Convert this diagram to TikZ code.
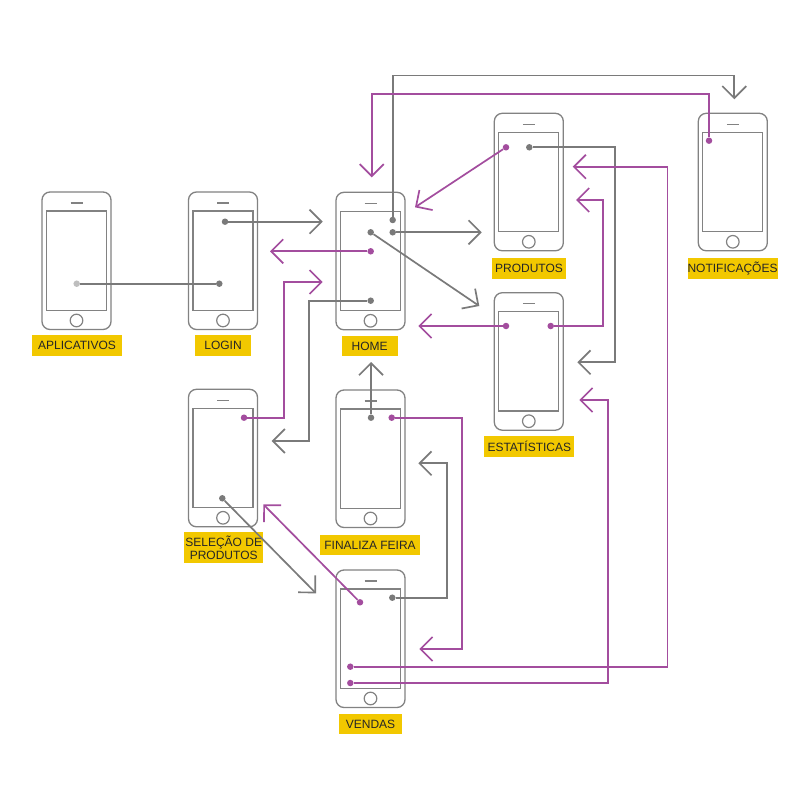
\documentclass[tikz,border=0pt]{standalone}
\usepackage{fontspec}
\setmainfont{Liberation Sans}
\usetikzlibrary{arrows.meta}
\definecolor{lgray}{RGB}{122,122,122}
\definecolor{pgray}{RGB}{130,130,130}
\definecolor{lpurple}{RGB}{163,77,158}
\definecolor{lyellow}{RGB}{242,200,0}
\definecolor{dlight}{RGB}{190,190,190}
\tikzset{
  phonebody/.style={draw=pgray,line width=1.3pt,rounded corners=8pt,rectangle,minimum width=69pt,minimum height=137.5pt,inner sep=0pt,outer sep=0pt},
  phoneline/.style={draw=pgray,line width=1.2pt},
  lbl/.style={fill=lyellow,inner sep=0pt,minimum height=20.5pt,text=black!85,font=\fontsize{12}{13}\selectfont,align=center},
  gdot/.style={circle,fill=lgray,inner sep=0pt,minimum size=6.5pt},
  pdot/.style={circle,fill=lpurple,inner sep=0pt,minimum size=6.5pt},
  ldot/.style={circle,fill=dlight,inner sep=0pt,minimum size=6.5pt},
  gl/.style={draw=lgray,line width=1.7pt},
  pl/.style={draw=lpurple,line width=1.7pt},
  arr/.style={-{Straight Barb[length=12pt,width=24pt]}},
}
\newcommand{\phonedraw}[3]{%
  \node[phonebody] (#1) at ({#2+34.5},{#3+68.75}) {};
  \draw[phoneline] ({#2+4.5},{#3+19}) rectangle ({#2+64.5},{#3+118.3});
  \draw[phoneline] ({#2+28.5},{#3+11}) -- ({#2+40.5},{#3+11});
  \draw[phoneline] ({#2+34.5},{#3+128.5}) circle[radius=6.3pt];
}
\begin{document}
\begin{tikzpicture}[x=1pt,y=-1pt]
\fill[white] (0,0) rectangle (810,810);
\useasboundingbox (0,0) rectangle (810,810);

% phones
\phonedraw{apl}{42}{192}
\phonedraw{login}{188.5}{192}
\phonedraw{home}{336}{192.3}
\phonedraw{prod}{494.3}{113.3}
\phonedraw{notif}{698.3}{113.3}
\phonedraw{est}{494.3}{292.7}
\phonedraw{sel}{188.5}{389.3}
\phonedraw{fin}{336}{390}
\phonedraw{vend}{336}{570}

% labels
\node[lbl,minimum width=90.6pt] (lapl) at (77,345.3) {APLICATIVOS};
\node[lbl,minimum width=56pt] (llogin) at (223,345.3) {LOGIN};
\node[lbl,minimum width=56pt] (lhome) at (369.7,346.2) {HOME};
\node[lbl,minimum width=73.4pt] (lprod) at (529,268.3) {PRODUTOS};
\node[lbl,minimum width=88.5pt] (lnotif) at (732.5,268.3) {NOTIFICAÇÕES};
\node[lbl,minimum width=90pt] (lest) at (529.3,446.7) {ESTATÍSTICAS};
\node[lbl,minimum width=79.3pt,minimum height=31pt,font=\fontsize{12}{12.5}\selectfont] (lsel) at (223.7,547.8) {SELEÇÃO DE\\PRODUTOS};
\node[lbl,minimum width=100pt] (lfin) at (370,545) {FINALIZA FEIRA};
\node[lbl,minimum width=62.4pt] (lvend) at (370.5,724.2) {VENDAS};

% dots
\node[ldot] (da) at (76.7,283.7) {};
\node[gdot] (dl1) at (219.3,283.7) {};
\node[gdot] (dl2) at (225,221.7) {};
\node[gdot] (dh1) at (392.7,220) {};
\node[gdot] (dh2) at (392.7,232.3) {};
\node[gdot] (dh3) at (370.7,232.3) {};
\node[pdot] (dh4) at (370.7,251.3) {};
\node[gdot] (dh5) at (370.7,300.7) {};
\node[pdot] (dp1) at (506,147.3) {};
\node[gdot] (dp2) at (529.3,147.3) {};
\node[pdot] (dn) at (709,140.7) {};
\node[pdot] (de1) at (506,326) {};
\node[pdot] (de2) at (550.7,326) {};
\node[pdot] (ds1) at (244,417.7) {};
\node[gdot] (ds2) at (222.3,498.3) {};
\node[gdot] (df1) at (371,417.7) {};
\node[pdot] (df2) at (391.7,417.7) {};
\node[pdot] (dv1) at (360,602.3) {};
\node[gdot] (dv2) at (392.3,597.7) {};
\node[pdot] (dv3) at (350.3,666.7) {};
\node[pdot] (dv4) at (350.3,683) {};

% corner and tip coordinates
\coordinate (t2) at (322.7,221.7);
\coordinate (k3) at (734.3,75.5);
\coordinate (t3) at (734.3,99.3);
\coordinate (t4) at (481.7,232.3);
\coordinate (t5) at (479.3,306);
\coordinate (k6) at (309.3,441);
\coordinate (t6) at (271.7,441);
\coordinate (k7) at (615.3,362.3);
\coordinate (t7) at (577.3,362.3);
\coordinate (t8) at (316,593.3);
\coordinate (t9) at (371,362);
\coordinate (k10) at (446.7,463.3);
\coordinate (t10) at (418.3,463.3);
\coordinate (t11) at (270,251.3);
\coordinate (k12) at (284.3,282);
\coordinate (t12) at (322.7,282);
\coordinate (k13) at (371.7,94.3);
\coordinate (t13) at (371.7,177.3);
\coordinate (t14) at (415,207.3);
\coordinate (t15) at (418.3,326);
\coordinate (k16) at (603,200);
\coordinate (t16) at (576,200);
\coordinate (k17) at (667.5,166.7);
\coordinate (t17) at (572.7,166.7);
\coordinate (k18) at (607.7,400);
\coordinate (t18) at (579.3,400);
\coordinate (k19) at (462,649);
\coordinate (t19) at (419.3,649);
\coordinate (t20) at (263.3,504.3);

% gray connectors
\draw[gl] (da) -- (dl1);
\draw[gl,arr] (dl2) -- (t2);
\draw[gl,arr] (dh1) |- (k3) -- (t3);
\draw[gl,arr] (dh2) -- (t4);
\draw[gl,arr] (dh3) -- (t5);
\draw[gl,arr] (dh5) -| (k6) -- (t6);
\draw[gl,arr] (dp2) -| (k7) -- (t7);
\draw[gl,arr] (ds2) -- (t8);
\draw[gl,arr] (df1) -- (t9);
\draw[gl,arr] (dv2) -| (k10) -- (t10);

% purple connectors
\draw[pl,arr] (dh4) -- (t11);
\draw[pl,arr] (ds1) -| (k12) -- (t12);
\draw[pl,arr] (dn) |- (k13) -- (t13);
\draw[pl,arr] (dp1) -- (t14);
\draw[pl,arr] (de1) -- (t15);
\draw[pl,arr] (de2) -| (k16) -- (t16);
\draw[pl,arr] (dv3) -| (k17) -- (t17);
\draw[pl,arr] (dv4) -| (k18) -- (t18);
\draw[pl,arr] (df2) -| (k19) -- (t19);
\draw[pl,arr] (dv1) -- (t20);
\end{tikzpicture}
\end{document}
